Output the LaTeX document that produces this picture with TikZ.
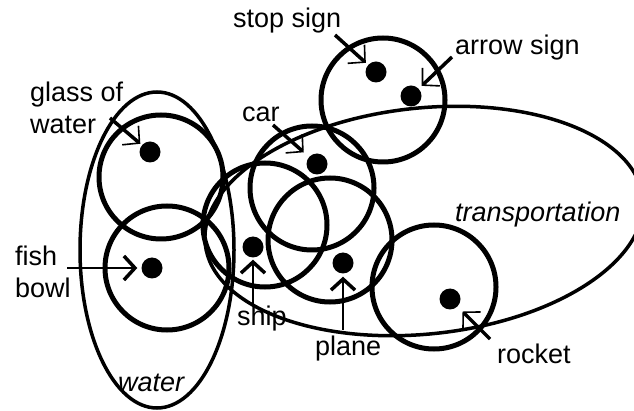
\documentclass[tikz,border=0pt]{standalone}
\usepackage{fontspec}
\setmainfont{Liberation Sans}
\usetikzlibrary{arrows.meta,shapes.geometric}
\begin{document}
\begin{tikzpicture}[x=1pt,y=-1pt,
  lbl/.style={inner sep=0pt, anchor=base west, font=\fontsize{27}{32}\selectfont, align=left},
  setc/.style={circle, draw, line width=5pt, minimum size=124pt, inner sep=0pt},
  grp/.style={ellipse, draw, line width=3.5pt, inner sep=0pt},
  dot/.style={circle, fill=black, inner sep=0pt, minimum size=21pt},
  ptrd/.style={line width=3.5pt, -{Straight Barb[length=12pt,width=25pt,line width=1.6pt]}},
  ptrs/.style={line width=1.8pt, -{Straight Barb[length=11pt,width=24pt,line width=3.5pt]}}
]
\useasboundingbox (0,0) rectangle (634,411);
% group ellipses
\node[grp, minimum width=154pt, minimum height=316pt] (water) at (157,250) {};
\node[grp, minimum width=440pt, minimum height=226pt, rotate=6] (transp) at (424,221) {};
% item circles
\node[setc] (glassc) at (161,177) {};
\node[setc] (fishc) at (167,268) {};
\node[setc] (shipc) at (265,225) {};
\node[setc] (carc) at (312,188) {};
\node[setc] (planec) at (330,240) {};
\node[setc] (signc) at (383,100) {};
\node[setc] (rocketc) at (434,287) {};
% dots
\node[dot] (glassd) at (150,152) {};
\node[dot] (fishd) at (152,268) {};
\node[dot] (shipd) at (253,247) {};
\node[dot] (card) at (317,164) {};
\node[dot] (planed) at (343,263) {};
\node[dot] (stopd) at (376,72) {};
\node[dot] (arrowd) at (411,96) {};
\node[dot] (rocketd) at (450,299) {};
% labels
\node[lbl] (stopl) at (233,28) {stop sign};
\node[lbl] (arrowl) at (455,55) {arrow sign};
\node[lbl] (glassl) at (30,134) {glass of\\water};
\node[lbl] (carl) at (242,122) {car};
\node[lbl] (fishl) at (15,298) {fish\\bowl};
\node[lbl] (shipl) at (237,326) {ship};
\node[lbl] (planel) at (315,355) {plane};
\node[lbl] (rocketl) at (497,363) {rocket};
\node[lbl, font=\fontsize{27}{32}\selectfont\itshape] (transpl) at (455,222) {transportation};
\node[lbl, font=\fontsize{27}{32}\selectfont\itshape] (waterl) at (118,391) {water};
% arrow tails
\coordinate (glasst) at (110,118);
\coordinate (cart) at (273,125);
\coordinate (stopt) at (335,35);
\coordinate (arrowt) at (452,57);
\coordinate (fisht) at (67,268);
\coordinate (shipt) at (253,305);
\coordinate (planet) at (343,330);
\coordinate (rockett) at (490,339);
% arrows
\draw[ptrd, shorten >=2pt] (glasst) -- (glassd);
\draw[ptrd, shorten >=7pt] (cart) -- (card);
\draw[ptrd, shorten >=3pt] (stopt) -- (stopd);
\draw[ptrd, shorten >=4pt] (arrowt) -- (arrowd);
\draw[ptrs, shorten >=4pt] (fisht) -- (fishd);
\draw[ptrs, shorten >=2pt] (shipt) -- (shipd);
\draw[ptrs, shorten >=3pt] (planet) -- (planed);
\draw[ptrd, shorten >=7pt] (rockett) -- (rocketd);
\end{tikzpicture}
\end{document}
